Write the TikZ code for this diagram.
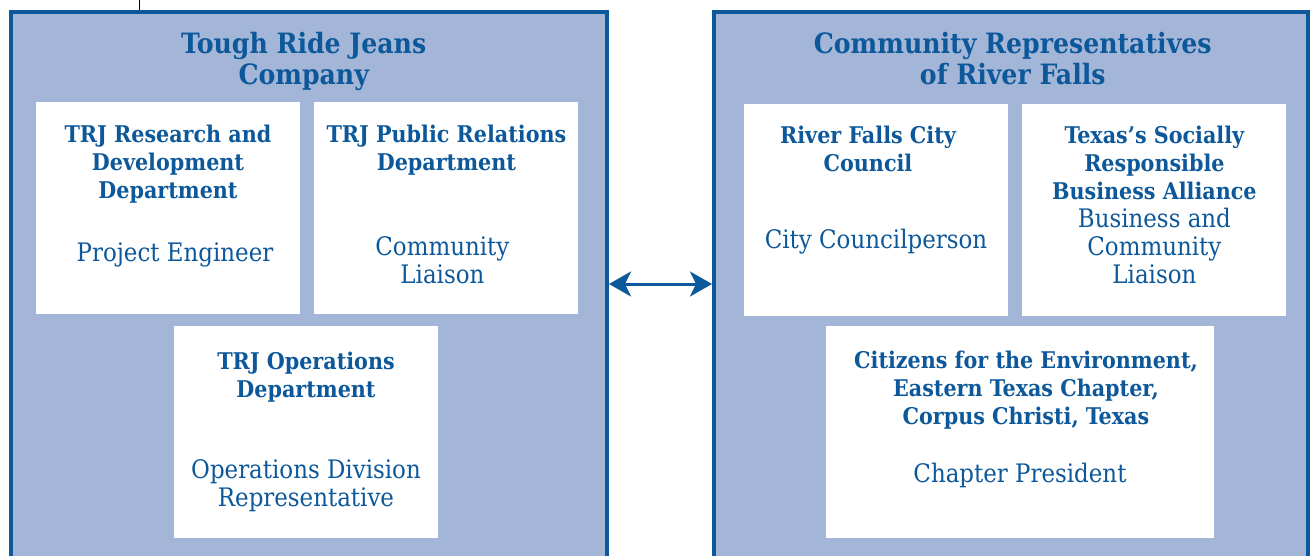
\documentclass[tikz,border=0pt]{standalone}
\usepackage{fontspec}
\setmainfont{DejaVu Serif Condensed}
\usetikzlibrary{positioning,arrows.meta}
\definecolor{trjblue}{RGB}{12,88,154}
\definecolor{trjfill}{RGB}{164,182,215}

\begin{document}
\begin{tikzpicture}[x=1pt,y=-1pt]
   \tikzstyle{every node}=[inner sep=0pt, text=trjblue]
   \tikzstyle{group}=[draw=trjblue, line width=4pt, fill=trjfill, minimum height=548pt]
   \tikzstyle{unit}=[fill=white, minimum width=264pt, minimum height=212pt]
   \tikzstyle{title}=[font=\fontsize{28}{31}\selectfont\bfseries, align=center]
   \tikzstyle{head}=[font=\fontsize{23}{28}\selectfont\bfseries, align=center]
   \tikzstyle{role}=[font=\fontsize{25.5}{28}\selectfont, align=center]
   \tikzstyle{link}=[draw=trjblue, line width=3pt, {Stealth[length=22pt,width=25pt,inset=6pt]}-{Stealth[length=22pt,width=25pt,inset=6pt]}]

\clip (0,0) rectangle (1314,555);
\node[group, minimum width=596.5pt] (trj) at (308.75,286) {};
\node[group, minimum width=593.5pt] (crf) at (1010.75,286) {};
\coordinate (stub) at (139.5,0);
\draw[black, line width=0.8pt] (stub) -- (stub |- trj.north);

\node[title, below=22pt of trj.north, xshift=-5pt] (trjtitle) {Tough Ride Jeans\\Company};
\node[title, below=22pt of crf.north, xshift=2pt] (crftitle) {Community Representatives\\of River Falls};

\node[unit] (rd) at (168,208) {};
\node[unit, right=14pt of rd] (pr) {};
\node[unit] (ops) at (306,432) {};
\node[unit] (rf) at (876,210) {};
\node[unit, right=14pt of rf] (tx) {};
\node[unit, minimum width=388pt] (cit) at (1020,432) {};

\node[head, below=23pt of rd.north] (rdhead) {TRJ Research and\\Development\\Department};
\node[role, below=141pt of rd.north, xshift=7pt] (rdrole) {Project Engineer};
\node[head, below=23pt of pr.north] (prhead) {TRJ Public Relations\\Department};
\node[role, below=135pt of pr.north, xshift=-4pt] (prrole) {Community\\Liaison};
\node[head, below=26pt of ops.north] (opshead) {TRJ Operations\\Department};
\node[role, below=134pt of ops.north] (opsrole) {Operations Division\\Representative};

\node[head, below=22pt of rf.north, xshift=-8pt] (rfhead) {River Falls City\\Council};
\node[role, below=125pt of rf.north] (rfrole) {City Councilperson};
\node[head, below=22pt of tx.north] (txhead) {Texas’s Socially\\Responsible\\Business Alliance};
\node[role, below=104pt of tx.north] (txrole) {Business and\\Community\\Liaison};
\node[head, below=25pt of cit.north, xshift=6pt] (cithead) {Citizens for the Environment,\\Eastern Texas Chapter,\\Corpus Christi, Texas};
\node[role, below=137pt of cit.north] (citrole) {Chapter President};

\draw[link] ([yshift=2pt]trj.east) -- ([yshift=2pt]crf.west);
\end{tikzpicture}
\end{document}
